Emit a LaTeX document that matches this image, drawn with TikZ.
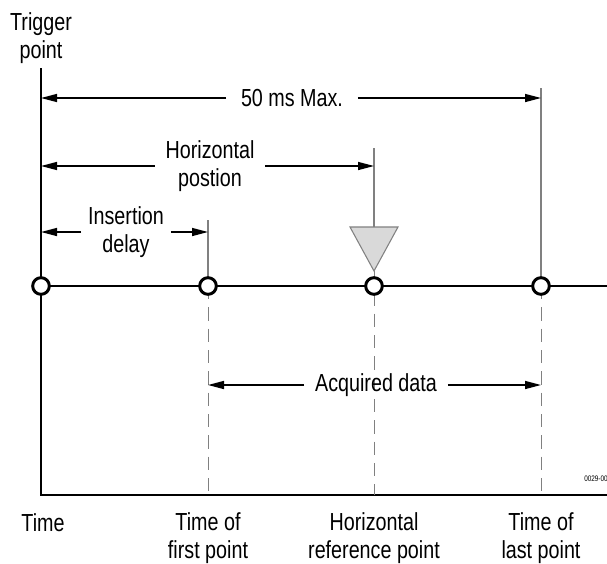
\documentclass[tikz,border=0pt]{standalone}
\usepackage{fontspec}
\setmainfont{Liberation Sans}[FakeStretch=0.8]
\usetikzlibrary{arrows.meta}

\begin{document}
\begin{tikzpicture}[x=0.75pt,y=-0.75pt]
\tikzstyle{every node}=[inner sep=0pt, font=\fontsize{18.5}{21}\selectfont]
\tikzstyle{sample}=[circle, draw, line width=2.2pt, fill=white, minimum size=12.5pt]
\tikzstyle{lbl}=[align=center, inner xsep=8pt]
\tikzstyle{dim}=[line width=1.1pt, -{Triangle[length=12pt,width=6pt]}]
\tikzstyle{guide}=[line width=0.8pt, gray]
\tikzstyle{dashguide}=[line width=0.7pt, gray, dash pattern=on 10pt off 6pt]
\useasboundingbox (0,0) rectangle (607,564);
% axes and time line
\coordinate (top) at (41,68);
\coordinate (o) at (41,495);
\coordinate (xend) at (607,495);
\draw[line width=2.2pt] (top) -- (o) -- (xend);
\draw[line width=2.2pt] (41,286) -- (607,286);
% guide lines
\coordinate (g1) at (208,220);
\coordinate (g2) at (374,148);
\coordinate (g3) at (541,88);
\coordinate (tipl) at (350,227);
\coordinate (tipr) at (398,227);
\coordinate (tip) at (374,271);
\draw[guide] (g1) -- (208,286);
\draw[guide] (g2) -- (tip |- tipl);
\draw[guide] (g3) -- (541,286);
\draw[guide, fill=black!15] (tipl) -- (tipr) -- (tip) -- cycle;
\draw[dashguide] (208,286) -- (208,495);
\draw[dashguide] (tip) -- (374,495);
\draw[dashguide] (541,286) -- (541,495);
% sample points
\draw (41,286) node (p0) [sample] {};
\draw (208,286) node (p1) [sample] {};
\draw (374,286) node (p2) [sample] {};
\draw (541,286) node (p3) [sample] {};
% dimension arrows
\node (maxlbl) [lbl, inner xsep=11pt] at (292,98) {50 ms Max.};
\draw[dim] (maxlbl.west) -- (maxlbl -| p0);
\draw[dim] (maxlbl.east) -- (maxlbl -| p3);
\node (hpos) [lbl] at (210,166) {Horizontal\\postion};
\draw[dim] (hpos.west) -- (hpos -| p0);
\draw[dim] (hpos.east) -- (hpos -| p2);
\node (idelay) [lbl, inner xsep=5pt] at (126,232) {Insertion\\delay};
\draw[dim] (idelay.west) -- (idelay -| p0);
\draw[dim] (idelay.east) -- (idelay -| p1);
\node (acq) [lbl] at (376,385) {Acquired data};
\draw[dim] (acq.west) -- (acq -| p1);
\draw[dim] (acq.east) -- (acq -| p3);
% labels
\node (trig) [align=center] at (41,38) {Trigger\\point};
\node (t0) at (43,523) {Time};
\node (t1) [align=center] at (208,538) {Time of\\first point};
\node (t2) [align=center] at (374,538) {Horizontal\\reference point};
\node (t3) [align=center] at (541,538) {Time of\\last point};
\node (fig) [anchor=east, font=\fontsize{6}{7}\selectfont] at (608,479) {0029-00};
\end{tikzpicture}
\end{document}
